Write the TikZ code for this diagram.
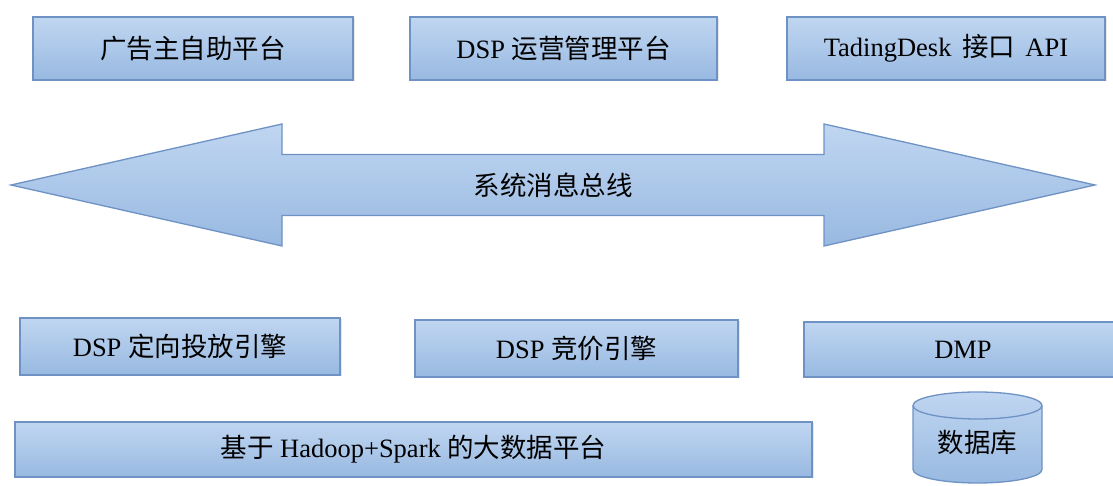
\documentclass[tikz,border=0pt]{standalone}
\usepackage{fontspec}
\setmainfont{Liberation Serif}
\newfontfamily\cjkfont{Noto Sans CJK SC}
\newcommand\zhtext[1]{{\cjkfont #1}}
\usetikzlibrary{shadows}
\definecolor{boxtop}{RGB}{192,214,241}
\definecolor{boxbot}{RGB}{152,185,225}
\definecolor{boxline}{RGB}{110,146,196}
\tikzset{
  blockfill/.style={top color=boxtop, bottom color=boxbot, draw=boxline, line width=1.3pt},
  block/.style={blockfill, rectangle, inner sep=0pt,
    drop shadow={opacity=0.18, shadow xshift=1.5pt, shadow yshift=-1.5pt},
    font=\fontsize{26.5}{30}\selectfont},
  label/.style={inner sep=0pt, font=\fontsize{26.5}{30}\selectfont}
}
\begin{document}
\begin{tikzpicture}[x=1pt,y=1pt]
\useasboundingbox (0,0) rectangle (1113,486);
% top row
\node[block, minimum width=320pt, minimum height=63pt] (b1) at (193,437.5) {\zhtext{广告主自助平台}};
\node[block, minimum width=307pt, minimum height=63pt] (b2) at (563.5,437.5) {DSP \zhtext{运营管理平台}};
\node[block, minimum width=318pt, minimum height=63pt] (b3) at (946,437.5) {TadingDesk\hspace{11pt}\zhtext{接口}\hspace{10pt}API};
% bus arrow
\path[blockfill] (11,301) -- (282,362) -- (282,331.5) -- (824,331.5) -- (824,362) -- (1095,301)
  -- (824,240) -- (824,270.5) -- (282,270.5) -- (282,240) -- cycle;
\node[label] (bus) at (553,301) {\zhtext{系统消息总线}};
% middle row
\node[block, minimum width=320pt, minimum height=57pt] (e1) at (180,139.5) {DSP \zhtext{定向投放引擎}};
\node[block, minimum width=323pt, minimum height=57pt] (e2) at (576.5,137.5) {DSP \zhtext{竞价引擎}};
\node[block, minimum width=318pt, minimum height=55pt] (dmp) at (963,136.5) {DMP};
% bottom row
\node[block, minimum width=797pt, minimum height=55pt] (bd) at (413.5,36.5) {\zhtext{基于} Hadoop+Spark \zhtext{的大数据平台}};
% database cylinder
\path[blockfill] (913,80.5) -- (913,16.5) arc (180:360:64.5 and 13.5) -- (1042,80.5) arc (0:180:64.5 and 13.5) -- cycle;
\draw[boxline, line width=1.3pt] (913,80.5) arc (180:360:64.5 and 13.5);
\node[label] (db) at (977.5,44) {\zhtext{数据库}};
\end{tikzpicture}
\end{document}
